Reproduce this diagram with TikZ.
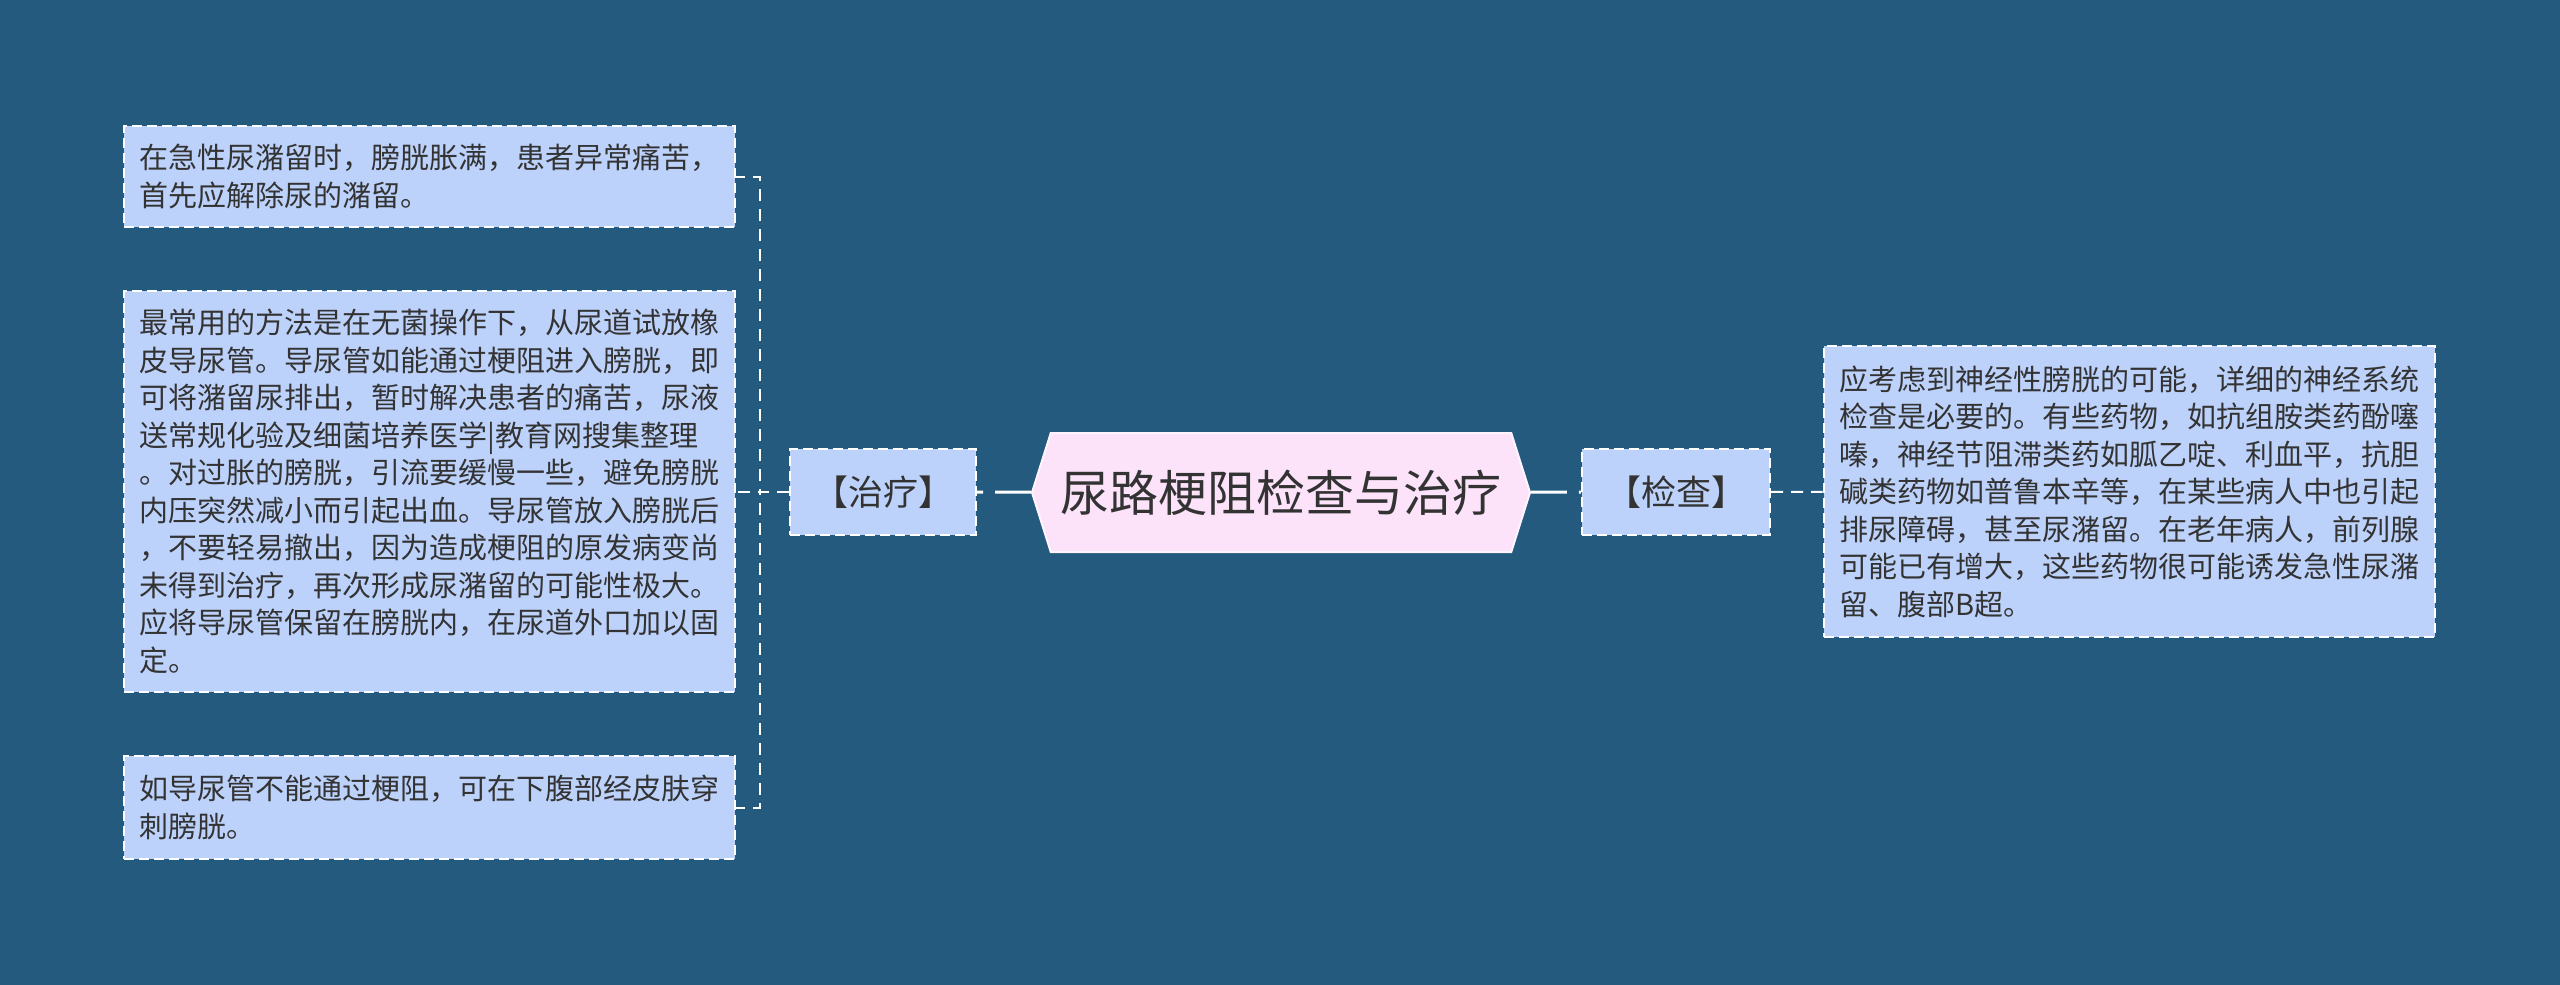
\documentclass[tikz,border=0pt]{standalone}
\usepackage{fontspec}
\newfontfamily\cjk{Noto Sans CJK SC}
\usetikzlibrary{shapes.symbols}

\definecolor{bgcol}{HTML}{245A7E}
\definecolor{boxcol}{HTML}{BDD2FB}
\definecolor{rootcol}{HTML}{FCE3FA}
\definecolor{textcol}{HTML}{333333}

\tikzset{
  leaf/.style={draw=white,fill=boxcol,dash pattern=on 10pt off 5pt,line width=2pt,
    text=textcol,font=\cjk\fontsize{29pt}{37.5pt}\selectfont,align=left,
    text width=580pt,inner xsep=15.5pt,inner ysep=0pt},
  topic/.style={draw=white,fill=boxcol,dash pattern=on 10pt off 5pt,line width=2pt,
    text=textcol,font=\cjk\fontsize{35pt}{40pt}\selectfont,inner sep=0pt,minimum height=86pt},
  root/.style={signal,signal to=west and east,signal pointer angle=145,
    draw=white!60!rootcol,fill=rootcol,line width=2pt,text=textcol,
    font=\cjk\fontsize{49pt}{56pt}\selectfont,minimum width=498pt,minimum height=119pt,inner sep=0pt},
  link/.style={draw=white,line width=2pt,dash pattern=on 12pt off 8pt},
  mainlink/.style={draw=white,line width=3pt,dash pattern=on 36pt off 12pt}
}

\begin{document}
\begin{tikzpicture}[x=1pt,y=-1pt]
\fill[bgcol] (0,0) rectangle (2560,985);

% Node: root
\node[root] (root) at (1281,492.5) {尿路梗阻检查与治疗};

% Node: zl
\node[topic,minimum width=186pt] (zl) at (883,492) {【治疗】};

% Node: jc
\node[topic,minimum width=188pt] (jc) at (1676,492) {【检查】};

% Node: zl1
\node[leaf,minimum height=101pt] (zl1) at (429.5,176.5) {在急性尿潴留时，膀胱胀满，患者异常痛苦，\\首先应解除尿的潴留。};

% Node: zl2
\node[leaf,minimum height=401pt] (zl2) at (429.5,491.5) {最常用的方法是在无菌操作下，从尿道试放橡\\皮导尿管。导尿管如能通过梗阻进入膀胱，即\\可将潴留尿排出，暂时解决患者的痛苦，尿液\\送常规化验及细菌培养医学|教育网搜集整理\\。对过胀的膀胱，引流要缓慢一些，避免膀胱\\内压突然减小而引起出血。导尿管放入膀胱后\\，不要轻易撤出，因为造成梗阻的原发病变尚\\未得到治疗，再次形成尿潴留的可能性极大。\\应将导尿管保留在膀胱内，在尿道外口加以固\\定。};

% Node: zl3
\node[leaf,minimum height=103pt] (zl3) at (429.5,807.5) {如导尿管不能通过梗阻，可在下腹部经皮肤穿\\刺膀胱。};

% Node: jc1
\node[leaf,minimum height=291pt] (jc1) at (2129,491.5) {应考虑到神经性膀胱的可能，详细的神经系统\\检查是必要的。有些药物，如抗组胺类药酚噻\\嗪，神经节阻滞类药如胍乙啶、利血平，抗胆\\碱类药物如普鲁本辛等，在某些病人中也引起\\排尿障碍，甚至尿潴留。在老年病人，前列腺\\可能已有增大，这些药物很可能诱发急性尿潴\\留、腹部B超。};

% Edge: root -> zl, root -> jc
\draw[mainlink] (root) -- (zl);
\draw[mainlink] (root) -- (jc);

% Edge: jc -> jc1
\draw[link] (jc) -- (jc1);

% Edge: zl -> zl1, zl2, zl3
\foreach \n in {zl1,zl2,zl3}
  \draw[link] (zl.west) -- ++(-29,0) |- (\n.east);
%
\end{tikzpicture}
\end{document}
